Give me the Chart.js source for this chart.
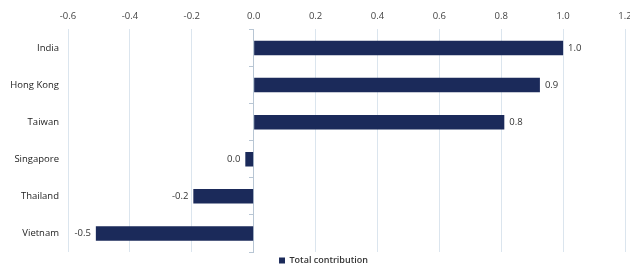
<!DOCTYPE html>
<html>
<head>
<meta charset="utf-8">
<script src="https://cdn.jsdelivr.net/npm/chart.js@4/dist/chart.umd.min.js"></script>
<style>
html,body{margin:0;padding:0;background:#fff;}
#wrap{width:630px;height:269px;position:relative;}
</style>
</head>
<body>
<div id="wrap"><canvas id="c"></canvas></div>
<script>
const categories = ["India", "Hong Kong", "Taiwan", "Singapore", "Thailand", "Vietnam"];
const totalContribution = [1.0, 0.925, 0.81, -0.027, -0.195, -0.51];
const seriesName = "Total contribution";
const xTicks = [-0.6, -0.4, -0.2, 0.0, 0.2, 0.4, 0.6, 0.8, 1.0, 1.2];

const FONT = "'Open Sans', 'Noto Sans', sans-serif";

const valueLabels = {
  id: 'valueLabels',
  afterLayout(chart) {
    if (chart.legend) { chart.legend.left += 22; }
  },
  afterDatasetsDraw(chart) {
    const ctx = chart.ctx;
    const meta = chart.getDatasetMeta(0);
    const xs = chart.scales.x;
    ctx.save();
    ctx.font = "9.5px " + FONT;
    ctx.fillStyle = "#333333";
    ctx.textBaseline = "middle";
    meta.data.forEach((bar, i) => {
      const v = chart.data.datasets[0].data[i];
      let txt = v.toFixed(1);
      if (txt === "-0.0") txt = "0.0";
      const end = xs.getPixelForValue(v);
      if (v >= 0) {
        ctx.textAlign = "left";
        ctx.fillText(txt, end + 5, bar.y);
      } else {
        ctx.textAlign = "right";
        ctx.fillText(txt, end - 5, bar.y);
      }
    });
    ctx.restore();
  }
};

new Chart(document.getElementById('c'), {
  type: 'bar',
  data: {
    labels: categories,
    datasets: [{
      label: seriesName,
      data: totalContribution,
      backgroundColor: '#1b2a5a',
      borderColor: '#1b2a5a',
      borderWidth: 0,
      barPercentage: 0.78,
      categoryPercentage: 0.5,
      yAxisID: 'y'
    }]
  },
  options: {
    indexAxis: 'y',
    responsive: true,
    maintainAspectRatio: false,
    animation: false,
    layout: { padding: { left: 0, right: 5, top: 4, bottom: -6 } },
    scales: {
      x: {
        position: 'top',
        min: -0.6,
        max: 1.2,
        afterBuildTicks(scale) { scale.ticks = xTicks.map(v => ({ value: v })); },
        afterFit(scale) { scale.paddingLeft = 0; scale.paddingRight = 0; },
        ticks: {
          font: { family: FONT, size: 9.5 },
          color: '#444444',
          padding: 7,
          callback: (v) => Number(v).toFixed(1)
        },
        grid: {
          color: (c) => (c.tick && c.tick.value === 0) ? 'rgba(0,0,0,0)' : '#dbe5ee',
          lineWidth: 1,
          drawTicks: false
        },
        border: { display: false }
      },
      y: {
        position: 'left',
        afterFit(scale) { scale.width = 68; },
        ticks: {
          font: { family: FONT, size: 9.5 },
          color: '#222222',
          padding: 9
        },
        grid: { display: false, drawTicks: false },
        border: { display: false }
      },
      y2: {
        type: 'category',
        labels: categories,
        position: { x: 0 },
        offset: true,
        ticks: { display: false },
        grid: { drawOnChartArea: false, drawTicks: true, tickLength: 4, color: '#b8c6d4', offset: true },
        border: { display: true, color: '#b8c6d4', width: 1 }
      }
    },
    plugins: {
      legend: {
        display: true,
        position: 'bottom',
        labels: {
          boxWidth: 6,
          boxHeight: 6,
          padding: 4,
          color: '#333333',
          font: { family: FONT, size: 9, weight: '600' }
        }
      },
      tooltip: { enabled: false }
    }
  },
  plugins: [valueLabels]
});
</script>
</body>
</html>
